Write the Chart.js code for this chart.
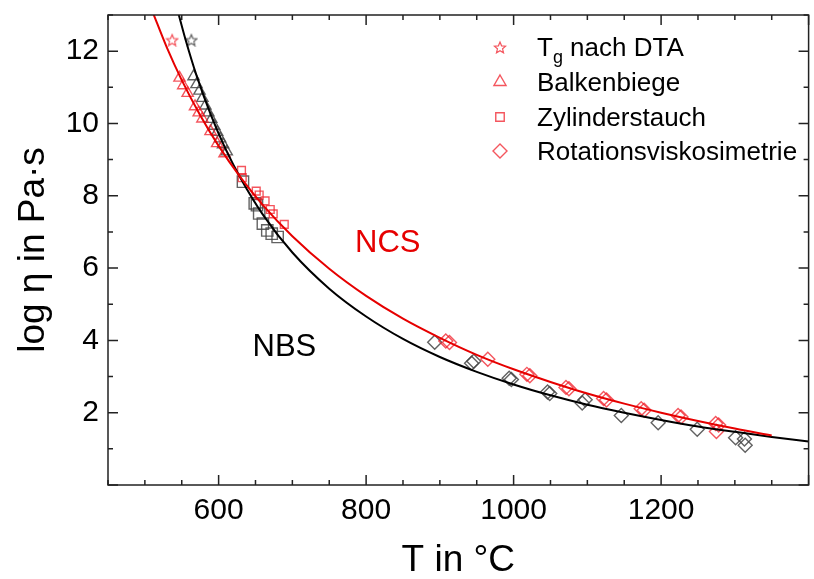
<!DOCTYPE html>
<html>
<head>
    <title>Viskositätskurven NCS / NBS</title>
    <meta charset="utf-8">
    <script src="https://cdn.jsdelivr.net/npm/chart.js@4.4.0/dist/chart.umd.min.js"></script>
    <style>
        html, body {
            margin: 0;
            padding: 0;
            background: #fff;
            overflow: hidden;
        }
        #visko-chart {
            display: block;
        }
    </style>
</head>
<body>
    <canvas id="visko-chart" width="818" height="579"></canvas>

    <script>
        // Achsenbeschriftung
        const xTickLabels = [600, 800, 1000, 1200];
        const yTickLabels = [2, 4, 6, 8, 10, 12];

        // VFT-Anpassung NCS (rot)
        const tempNCSKurve = [510, 530, 550, 575, 600, 630, 660, 700, 750, 800, 850, 900, 950, 1000, 1050, 1100, 1150, 1200, 1250, 1300, 1350];
        const logNCSKurve = [13.11, 12.09, 11.20, 10.23, 9.38, 8.50, 7.74, 6.88, 5.98, 5.23, 4.60, 4.07, 3.60, 3.20, 2.85, 2.53, 2.25, 2.00, 1.77, 1.56, 1.37];

        // VFT-Anpassung NBS (schwarz)
        const tempNBSKurve = [545, 555, 570, 590, 610, 630, 660, 700, 750, 800, 850, 900, 950, 1000, 1050, 1100, 1150, 1200, 1250, 1300, 1350, 1400];
        const logNBSKurve = [13.08, 12.33, 11.33, 10.21, 9.27, 8.48, 7.48, 6.43, 5.43, 4.66, 4.04, 3.54, 3.13, 2.78, 2.48, 2.22, 2.00, 1.80, 1.62, 1.47, 1.33, 1.20];

        // Messwerte NCS
        const tempNCSTg = [537];
        const logNCSTg = [12.32];
        const tempNCSBalken = [547, 552, 558, 568, 573, 578, 589, 598, 608];
        const logNCSBalken = [11.26, 11.05, 10.84, 10.47, 10.30, 10.13, 9.78, 9.45, 9.17];
        const tempNCSZylinder = [631, 632, 651, 655, 663, 670, 674, 689];
        const logNCSZylinder = [8.70, 8.50, 8.13, 8.02, 7.86, 7.62, 7.50, 7.21];
        const tempNCSRotation = [908, 913, 965, 1018, 1022, 1071, 1075, 1122, 1126, 1173, 1177, 1223, 1227, 1274, 1278, 1275];
        const logNCSRotation = [3.98, 3.94, 3.48, 3.06, 3.02, 2.70, 2.66, 2.39, 2.35, 2.11, 2.07, 1.92, 1.88, 1.70, 1.66, 1.48];

        // Messwerte NBS
        const tempNBSTg = [563];
        const logNBSTg = [12.32];
        const tempNBSBalken = [566, 570, 574, 578, 582, 586, 590, 594, 598, 602, 606, 611];
        const logNBSBalken = [11.30, 11.08, 10.90, 10.70, 10.49, 10.30, 10.12, 9.93, 9.76, 9.58, 9.42, 9.22];
        const tempNBSZylinder = [633, 649, 652, 655, 660, 666, 672, 680];
        const logNBSZylinder = [8.39, 7.79, 7.74, 7.51, 7.23, 7.04, 6.95, 6.86];
        const tempNBSRotation = [893, 943, 946, 994, 997, 1046, 1049, 1093, 1097, 1146, 1196, 1249, 1301, 1313, 1314];
        const logNBSRotation = [3.95, 3.37, 3.42, 2.95, 2.92, 2.57, 2.53, 2.27, 2.36, 1.92, 1.72, 1.54, 1.31, 1.27, 1.10];

        const rotMarker = 'rgba(240, 30, 40, 0.75)';
        const schwarzMarker = 'rgba(70, 70, 70, 0.85)';
        const schrift = "'Liberation Sans', Arial, sans-serif";

        function punkte(xs, ys) {
            return xs.map((x, i) => ({x: x, y: ys[i]}));
        }

        // fuenfzackiger Stern als Umriss
        function sternSymbol(farbe, groesse) {
            const c = document.createElement('canvas');
            c.width = groesse;
            c.height = groesse;
            const g = c.getContext('2d');
            const m = groesse / 2, ra = groesse / 2 - 1, ri = ra * 0.45;
            g.beginPath();
            for (let i = 0; i < 10; i++) {
                const r = i % 2 ? ri : ra;
                const w = -Math.PI / 2 + i * Math.PI / 5;
                g.lineTo(m + r * Math.cos(w), m + 1 + r * Math.sin(w));
            }
            g.closePath();
            g.strokeStyle = farbe;
            g.lineWidth = 1.2;
            g.stroke();
            return c;
        }

        const sternRot = sternSymbol(rotMarker, 14);
        const sternSchwarz = sternSymbol(schwarzMarker, 14);

        function messreihe(xs, ys, farbe, stil, radius) {
            return {
                data: punkte(xs, ys),
                showLine: false,
                pointStyle: stil,
                pointRadius: radius,
                borderColor: farbe,
                backgroundColor: 'rgba(0,0,0,0)',
                pointBorderWidth: 1.4,
                order: 2
            };
        }

        // Rahmen, nach innen zeigende Striche, Legende und Kurvennamen
        const rahmenPlugin = {
            id: 'rahmen',
            afterDraw(chart) {
                const {ctx, chartArea: a, scales: {x, y}} = chart;
                ctx.save();
                ctx.strokeStyle = '#222';
                ctx.lineWidth = 1.5;
                ctx.strokeRect(a.left, a.top, a.right - a.left, a.bottom - a.top);

                ctx.beginPath();
                x.ticks.forEach(t => {
                    const px = x.getPixelForValue(t.value);
                    const len = t.value % 200 === 0 ? 10 : 5;
                    ctx.moveTo(px, a.bottom);
                    ctx.lineTo(px, a.bottom - len);
                    ctx.moveTo(px, a.top);
                    ctx.lineTo(px, a.top + len);
                });
                y.ticks.forEach(t => {
                    const py = y.getPixelForValue(t.value);
                    const len = t.value % 2 === 0 ? 10 : 5;
                    ctx.moveTo(a.left, py);
                    ctx.lineTo(a.left + len, py);
                    ctx.moveTo(a.right, py);
                    ctx.lineTo(a.right - len, py);
                });
                ctx.stroke();

                // Legende
                const legende = [
                    {stil: sternRot, r: 7, text: 'T', index: 'g', rest: ' nach DTA'},
                    {stil: 'triangle', r: 7, text: 'Balkenbiege'},
                    {stil: 'rect', r: 6, text: 'Zylinderstauch'},
                    {stil: 'rectRot', r: 7, text: 'Rotationsviskosimetrie'}
                ];
                const basis = [56, 91, 126, 160];
                ctx.textAlign = 'left';
                ctx.textBaseline = 'alphabetic';
                legende.forEach((e, i) => {
                    ctx.strokeStyle = rotMarker;
                    ctx.fillStyle = 'rgba(0,0,0,0)';
                    ctx.lineWidth = 1.4;
                    Chart.helpers.drawPoint(ctx, {pointStyle: e.stil, radius: e.r, borderWidth: 1.4, rotation: 0}, 500, basis[i] - 9);
                    ctx.fillStyle = '#000';
                    ctx.font = '26px ' + schrift;
                    ctx.fillText(e.text, 537, basis[i]);
                    if (e.index) {
                        let xp = 537 + ctx.measureText(e.text).width;
                        ctx.font = '18px ' + schrift;
                        ctx.fillText(e.index, xp, basis[i] + 7);
                        xp += ctx.measureText(e.index).width;
                        ctx.font = '26px ' + schrift;
                        ctx.fillText(e.rest, xp, basis[i]);
                    }
                });

                // Kurvennamen
                ctx.font = '31px ' + schrift;
                ctx.fillStyle = '#e60000';
                ctx.fillText('NCS', x.getPixelForValue(785), y.getPixelForValue(6.45));
                ctx.fillStyle = '#000';
                ctx.fillText('NBS', x.getPixelForValue(646), y.getPixelForValue(3.56));
                ctx.restore();
            }
        };

        const ctx = document.getElementById('visko-chart').getContext('2d');
        const chart = new Chart(ctx, {
            type: 'scatter',
            data: {
                datasets: [
                    {
                        label: 'NCS',
                        data: punkte(tempNCSKurve, logNCSKurve),
                        showLine: true,
                        borderColor: '#e60000',
                        borderWidth: 2,
                        pointRadius: 0,
                        cubicInterpolationMode: 'monotone',
                        order: 0
                    },
                    {
                        label: 'NBS',
                        data: punkte(tempNBSKurve, logNBSKurve),
                        showLine: true,
                        borderColor: '#000',
                        borderWidth: 2,
                        pointRadius: 0,
                        cubicInterpolationMode: 'monotone',
                        order: 1
                    },
                    messreihe(tempNCSTg, logNCSTg, rotMarker, sternRot, 7),
                    messreihe(tempNBSTg, logNBSTg, schwarzMarker, sternSchwarz, 7),
                    messreihe(tempNCSBalken, logNCSBalken, rotMarker, 'triangle', 6.5),
                    messreihe(tempNBSBalken, logNBSBalken, schwarzMarker, 'triangle', 6.5),
                    messreihe(tempNCSZylinder, logNCSZylinder, rotMarker, 'rect', 5.5),
                    messreihe(tempNBSZylinder, logNBSZylinder, schwarzMarker, 'rect', 8),
                    messreihe(tempNCSRotation, logNCSRotation, rotMarker, 'rectRot', 7),
                    messreihe(tempNBSRotation, logNBSRotation, schwarzMarker, 'rectRot', 7)
                ]
            },
            options: {
                responsive: false,
                animation: false,
                events: [],
                layout: {
                    padding: {top: 15, right: 1, left: 0, bottom: 0}
                },
                plugins: {
                    legend: {display: false},
                    tooltip: {enabled: false}
                },
                scales: {
                    x: {
                        type: 'linear',
                        min: 450,
                        max: 1400,
                        afterFit: s => {
                            s.height = 94;
                            s.paddingLeft = 0;
                            s.paddingRight = 0;
                        },
                        grid: {display: false, drawTicks: false},
                        border: {display: false},
                        ticks: {
                            stepSize: 50,
                            autoSkip: false,
                            maxRotation: 0,
                            padding: 8,
                            color: '#000',
                            font: {family: schrift, size: 30},
                            callback: v => xTickLabels.includes(v) ? String(v) : ''
                        },
                        title: {
                            display: true,
                            text: 'T in °C',
                            color: '#000',
                            font: {family: schrift, size: 37, lineHeight: 1},
                            padding: {top: 0, bottom: 0}
                        }
                    },
                    y: {
                        type: 'linear',
                        min: 0,
                        max: 13,
                        afterFit: s => {
                            s.width = 108;
                            s.paddingTop = 0;
                            s.paddingBottom = 0;
                        },
                        grid: {display: false, drawTicks: false},
                        border: {display: false},
                        ticks: {
                            stepSize: 1,
                            autoSkip: false,
                            padding: 9,
                            color: '#000',
                            font: {family: schrift, size: 30},
                            callback: v => yTickLabels.includes(v) ? String(v) : ''
                        },
                        title: {
                            display: true,
                            text: 'log η in Pa·s',
                            color: '#000',
                            font: {family: schrift, size: 37, lineHeight: 1},
                            padding: {top: 15, bottom: 0}
                        }
                    }
                }
            },
            plugins: [rahmenPlugin]
        });
    </script>
</body>
</html>
